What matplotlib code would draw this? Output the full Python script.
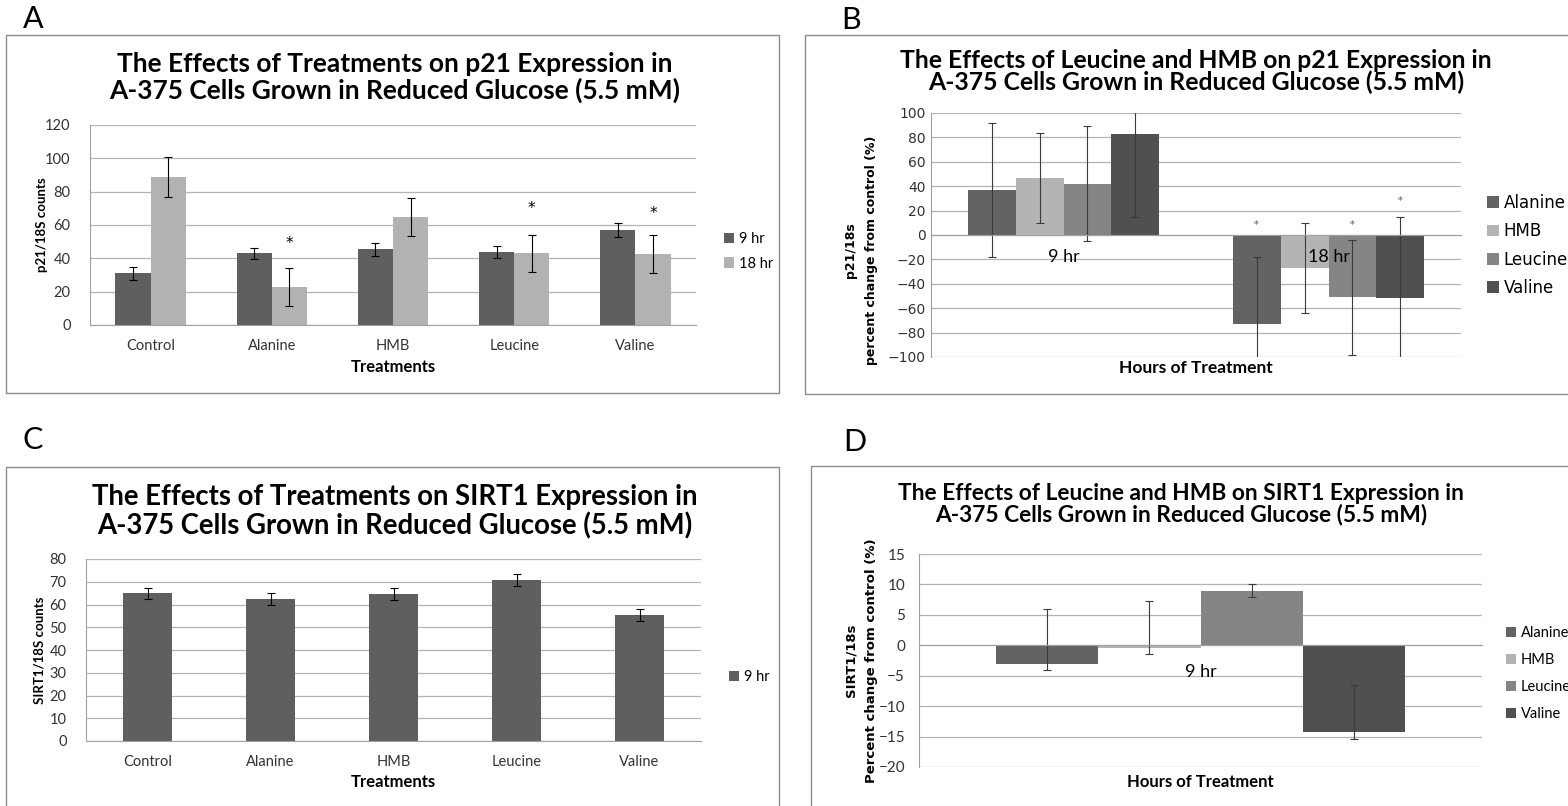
import matplotlib
matplotlib.use("Agg")
import matplotlib.pyplot as plt
from matplotlib.patches import Rectangle
import numpy as np

# ---- data ----
treatments = ['Control', 'Alanine', 'HMB', 'Leucine', 'Valine']
p21_9hr = [31, 43, 45.5, 44, 57]
p21_9hr_err = [4, 3.5, 4, 3.5, 4]
p21_18hr = [89, 23, 65, 43, 42.5]
p21_18hr_err = [12, 11.5, 11.5, 11, 11.5]
p21_18hr_star = [None, 49, None, 70, 67]

supplements = ['Alanine', 'HMB', 'Leucine', 'Valine']
hours = ['9 hr', '18 hr']
p21_pct_9hr = [37, 47, 42, 83]
p21_pct_9hr_err = [55, 37, 47, 68]
p21_pct_18hr = [-73, -27, -51, -52]
p21_pct_18hr_err = [55, 37, 47, 67]
p21_pct_18hr_star = [8, None, 8, 28]

sirt1_9hr = [64.9, 62.4, 64.5, 70.6, 55.4]
sirt1_9hr_err = [2.5, 2.8, 2.7, 2.6, 2.5]

sirt1_pct_9hr = [-3, -0.5, 9, -14.3]
sirt1_pct_err_low = [1, 0.9, 1.1, 1.1]
sirt1_pct_err_high = [9, 7.7, 1.1, 7.8]

W, H = 1568, 806
DARK = '#5f5f5f'
LIGHT = '#b2b2b2'
SUPP_COLORS = ['#636363', '#b4b4b4', '#858585', '#505050']
GRID = '#b4b4b4'
TXT = '#333333'

fig = plt.figure(figsize=(W / 100, H / 100), dpi=100)


def px_axes(left, top, right, bottom):
    return fig.add_axes([left / W, 1 - bottom / H, (right - left) / W, (bottom - top) / H])


def panel_box(left, top, right, bottom, letter, lx, ly):
    fig.patches.append(Rectangle((left / W, 1 - bottom / H), (right - left) / W, (bottom - top) / H,
                                 transform=fig.transFigure, fill=False, edgecolor='#8c8c8c', lw=1.0))
    fig.text(lx / W, 1 - ly / H, letter, fontsize=22, family='Lato', ha='center', va='center')


def style_axes(ax, tickfont='Lato', ticksize=10.5):
    ax.set_axisbelow(True)
    ax.yaxis.grid(True, color=GRID, lw=0.9)
    for s in ['top', 'right']:
        ax.spines[s].set_visible(False)
    ax.spines['left'].set_color('#a0a0a0')
    ax.spines['bottom'].set_color('#a0a0a0')
    ax.tick_params(length=0, labelcolor=TXT)
    for lab in ax.get_yticklabels() + ax.get_xticklabels():
        lab.set_family(tickfont)
        lab.set_fontsize(ticksize)


def title(xc, yc, txt, size, spacing):
    fig.text(xc / W, 1 - yc / H, txt, family='Lato', fontweight='bold', fontsize=size,
             ha='center', va='center', linespacing=spacing)


# ---------------- A ----------------
panel_box(6, 35, 779, 393, 'A', 33, 19)
title(395, 77.5, 'The Effects of Treatments on p21 Expression in\nA-375 Cells Grown in Reduced Glucose (5.5 mM)',
      19, 1.1)
axA = px_axes(90, 125, 696, 325)
x = np.arange(len(treatments))
w = 0.29
axA.bar(x - w / 2, p21_9hr, w, color=DARK, label='9 hr')
axA.bar(x + w / 2, p21_18hr, w, color=LIGHT, label='18 hr')
axA.errorbar(x - w / 2, p21_9hr, yerr=p21_9hr_err, fmt='none', ecolor='black', elinewidth=0.8, capsize=3, capthick=0.8)
axA.errorbar(x + w / 2, p21_18hr, yerr=p21_18hr_err, fmt='none', ecolor='black', elinewidth=0.8, capsize=3, capthick=0.8)
for xi, s in zip(x, p21_18hr_star):
    if s is not None:
        axA.text(xi + w / 2, s, '*', ha='center', va='center', fontsize=11)
axA.set_xlim(-0.5, len(treatments) - 0.5)
axA.set_ylim(0, 120)
axA.set_yticks(range(0, 121, 20))
axA.set_xticks(x, treatments)
style_axes(axA)
axA.tick_params(axis='x', pad=10)
axA.tick_params(axis='y', pad=14)
axA.set_xlabel('Treatments', family='Lato', fontweight='bold', fontsize=12)
axA.xaxis.set_label_coords(0.5, -(367 - 325) / 200)
axA.xaxis.label.set_va('center')
axA.set_ylabel('p21/18S counts', family='Lato', fontweight='bold', fontsize=9.5)
axA.yaxis.set_label_coords((42 - 90) / 606, 0.5)
axA.yaxis.label.set_va('center')
axA.legend(loc='center left', bbox_to_anchor=(724 / W, 1 - 251.5 / H), bbox_transform=fig.transFigure,
           frameon=False, handlelength=0.7, handleheight=0.7, handletextpad=0.3, labelspacing=0.71,
           borderpad=0, borderaxespad=0, prop={'family': 'Lato', 'size': 10.5})

# ---------------- B ----------------
panel_box(805, 35, 1575, 394, 'B', 851, 20)
title(1196, 71.5, 'The Effects of Leucine and HMB on p21 Expression in\nA-375 Cells Grown in Reduced Glucose (5.5 mM)',
      17.8, 0.95)
axB = px_axes(931, 113, 1461, 357)
xb = np.arange(len(hours))
wb = 0.181
for i, name in enumerate(supplements):
    off = (i - 1.5) * wb
    vals = [p21_pct_9hr[i], p21_pct_18hr[i]]
    errs = [p21_pct_9hr_err[i], p21_pct_18hr_err[i]]
    axB.bar(xb + off, vals, wb, color=SUPP_COLORS[i], label=name)
    axB.errorbar(xb + off, vals, yerr=errs, fmt='none', ecolor='#3a3a3a', elinewidth=0.8, capsize=3, capthick=0.8)
    if p21_pct_18hr_star[i] is not None:
        axB.text(xb[1] + off, p21_pct_18hr_star[i], '*', ha='center', va='center', fontsize=7, color='#555555')
axB.set_xlim(-0.5, 1.5)
axB.set_ylim(-100, 100)
axB.set_yticks(range(-100, 101, 20))
axB.spines['bottom'].set_position(('data', 0))
axB.set_xticks(xb, ['', ''])
# category labels sit just under the zero line, drawn over the bars
for xi, h in zip(xb, hours):
    axB.annotate(h, (xi, 0), xytext=(0, -16), textcoords='offset points', ha='center', va='center',
                 family='Lato', fontsize=13, zorder=5)
style_axes(axB, tickfont='DejaVu Sans', ticksize=10)
axB.tick_params(axis='y', pad=4)
axB.set_xlabel('Hours of Treatment', family='Lato', fontweight='bold', fontsize=12.5)
axB.xaxis.set_label_coords(0.5, -(368 - 357) / 244)
axB.xaxis.label.set_va('center')
axB.set_ylabel('p21/18s\npercent change from control (%)', family='DejaVu Sans', fontweight='bold',
               fontsize=9, linespacing=1.8)
axB.yaxis.set_label_coords((861.5 - 931) / 530, (357 - 250) / 244)
axB.yaxis.label.set_va('center')
axB.legend(loc='center left', bbox_to_anchor=(1487 / W, 1 - 245.5 / H), bbox_transform=fig.transFigure,
           frameon=False, handlelength=0.7, handleheight=0.7, handletextpad=0.3, labelspacing=0.62,
           borderpad=0, borderaxespad=0, prop={'family': 'DejaVu Sans', 'size': 12})

# ---------------- C ----------------
panel_box(6, 467, 779, 812, 'C', 33, 440)
title(395, 512, 'The Effects of Treatments on SIRT1 Expression in\nA-375 Cells Grown in Reduced Glucose (5.5 mM)',
      19.8, 1.1)
axC = px_axes(86, 559, 701, 741)
axC.bar(x, sirt1_9hr, 0.40, color=DARK, label='9 hr')
axC.errorbar(x, sirt1_9hr, yerr=sirt1_9hr_err, fmt='none', ecolor='black', elinewidth=0.8, capsize=3, capthick=0.8)
axC.set_xlim(-0.5, len(treatments) - 0.5)
axC.set_ylim(0, 80)
axC.set_yticks(range(0, 81, 10))
axC.set_xticks(x, treatments)
style_axes(axC)
axC.tick_params(axis='x', pad=10)
axC.tick_params(axis='y', pad=14)
axC.set_xlabel('Treatments', family='Lato', fontweight='bold', fontsize=12)
axC.xaxis.set_label_coords(0.5, -(782 - 741) / 182)
axC.xaxis.label.set_va('center')
axC.set_ylabel('SIRT1/18S counts', family='Lato', fontweight='bold', fontsize=9.5)
axC.yaxis.set_label_coords((40 - 86) / 615, 0.5)
axC.yaxis.label.set_va('center')
axC.legend(loc='center left', bbox_to_anchor=(729 / W, 1 - 677 / H), bbox_transform=fig.transFigure,
           frameon=False, handlelength=0.7, handleheight=0.7, handletextpad=0.3,
           borderpad=0, borderaxespad=0, prop={'family': 'Lato', 'size': 10.5})

# ---------------- D ----------------
panel_box(811, 466, 1575, 812, 'D', 855, 442)
title(1181, 504, 'The Effects of Leucine and HMB on SIRT1 Expression in\nA-375 Cells Grown in Reduced Glucose (5.5 mM)',
      16.4, 0.96)
axD = px_axes(919, 554, 1482, 767)
wd = 0.182
for i, name in enumerate(supplements):
    off = (i - 1.5) * wd
    axD.bar([off], [sirt1_pct_9hr[i]], wd, color=SUPP_COLORS[i], label=name)
    axD.errorbar([off], [sirt1_pct_9hr[i]], yerr=[[sirt1_pct_err_low[i]], [sirt1_pct_err_high[i]]],
                 fmt='none', ecolor='#3a3a3a', elinewidth=0.8, capsize=3, capthick=0.8)
axD.set_xlim(-0.5, 0.5)
axD.set_ylim(-20, 15)
axD.set_yticks(range(-20, 16, 5))
axD.spines['bottom'].set_position(('data', 0))
axD.set_xticks([0], [''])
axD.annotate('9 hr', (0, 0), xytext=(0, -19), textcoords='offset points', ha='center', va='center',
             family='Lato', fontsize=13, zorder=5)
style_axes(axD, ticksize=11)
axD.tick_params(axis='y', pad=10)
axD.set_xlabel('Hours of Treatment', family='Lato', fontweight='bold', fontsize=12)
axD.xaxis.set_label_coords(0.5, -(782 - 767) / 213)
axD.xaxis.label.set_va('center')
axD.set_ylabel('SIRT1/18s\nPercent change from control (%)', family='DejaVu Sans', fontweight='bold',
               fontsize=9.5, linespacing=1.75)
axD.yaxis.set_label_coords((861.5 - 919) / 563, 0.5)
axD.yaxis.label.set_va('center')
axD.legend(loc='center left', bbox_to_anchor=(1506 / W, 1 - 673.5 / H), bbox_transform=fig.transFigure,
           frameon=False, handlelength=0.7, handleheight=0.7, handletextpad=0.3, labelspacing=0.9,
           borderpad=0, borderaxespad=0, prop={'family': 'Lato', 'size': 10.5})

fig.savefig('out.png', dpi=100)
